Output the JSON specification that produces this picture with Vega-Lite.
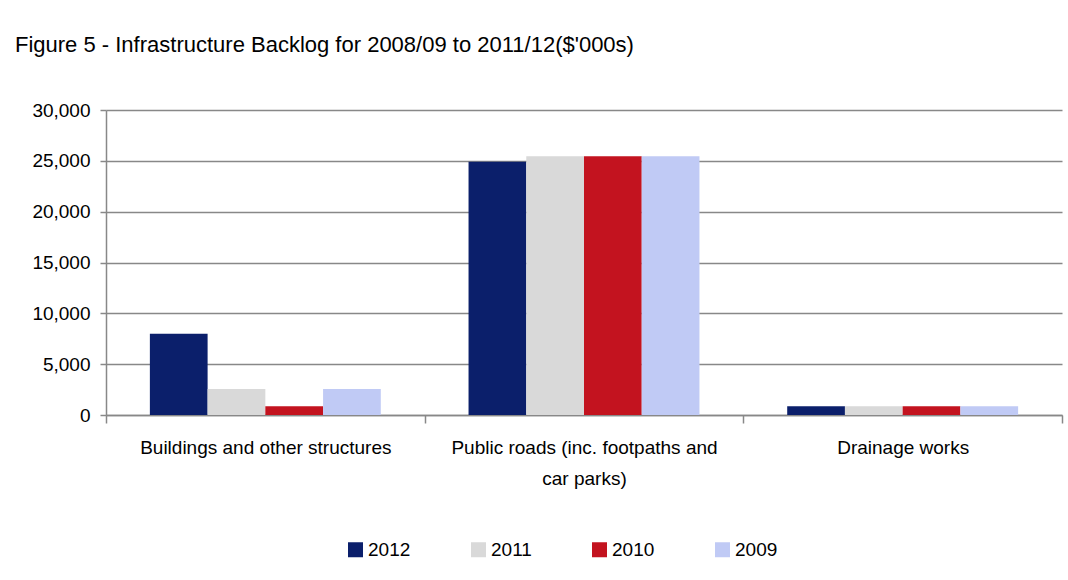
{
  "$schema": "https://vega.github.io/schema/vega-lite/v6.json",
  "width": 956,
  "height": 305,
  "autosize": {"type": "none"},
  "padding": {"left": 106, "top": 110, "right": 6, "bottom": 165},
  "background": "white",
  "title": {
    "text": "Figure 5 - Infrastructure Backlog for 2008/09 to 2011/12($'000s)",
    "anchor": "start",
    "frame": "group",
    "dx": -91,
    "offset": 44,
    "fontSize": 22,
    "fontWeight": "normal",
    "color": "black"
  },
  "data": {
    "values": [
      {"category": "Buildings and other structures", "year": "2012", "value": 8000},
      {"category": "Buildings and other structures", "year": "2011", "value": 2550},
      {"category": "Buildings and other structures", "year": "2010", "value": 850},
      {"category": "Buildings and other structures", "year": "2009", "value": 2550},
      {"category": "Public roads (inc. footpaths and car parks)", "year": "2012", "value": 24900},
      {"category": "Public roads (inc. footpaths and car parks)", "year": "2011", "value": 25450},
      {"category": "Public roads (inc. footpaths and car parks)", "year": "2010", "value": 25450},
      {"category": "Public roads (inc. footpaths and car parks)", "year": "2009", "value": 25450},
      {"category": "Drainage works", "year": "2012", "value": 850},
      {"category": "Drainage works", "year": "2011", "value": 850},
      {"category": "Drainage works", "year": "2010", "value": 850},
      {"category": "Drainage works", "year": "2009", "value": 850}
    ]
  },
  "mark": {"type": "bar"},
  "encoding": {
    "x": {
      "field": "category",
      "type": "nominal",
      "sort": ["Buildings and other structures", "Public roads (inc. footpaths and car parks)", "Drainage works"],
      "scale": {"paddingInner": 0, "paddingOuter": 0},
      "axis": {
        "title": null,
        "labelAngle": 0,
        "tickBand": "extent",
        "tickSize": 8,
        "tickColor": "#888888",
        "tickWidth": 1.5,
        "domainColor": "#888888",
        "domainWidth": 1.5,
        "labelFontSize": 19,
        "labelColor": "black",
        "labelPadding": 15,
        "labelLimit": 0,
        "labelLineHeight": 31,
        "labelExpr": "datum.value == 'Public roads (inc. footpaths and car parks)' ? ['Public roads (inc. footpaths and', 'car parks)'] : datum.label"
      }
    },
    "xOffset": {
      "field": "year",
      "type": "nominal",
      "sort": ["2012", "2011", "2010", "2009"],
      "scale": {"paddingInner": 0, "paddingOuter": 0.76}
    },
    "y": {
      "field": "value",
      "type": "quantitative",
      "scale": {"domain": [0, 30000]},
      "axis": {
        "title": null,
        "values": [0, 5000, 10000, 15000, 20000, 25000, 30000],
        "format": ",.0f",
        "grid": true,
        "gridColor": "#888888",
        "gridWidth": 1.5,
        "domainColor": "#888888",
        "domainWidth": 1.5,
        "tickColor": "#888888",
        "tickWidth": 1.5,
        "tickSize": 6,
        "labelFontSize": 19,
        "labelColor": "black",
        "labelPadding": 10
      }
    },
    "color": {
      "field": "year",
      "type": "nominal",
      "scale": {"domain": ["2012", "2011", "2010", "2009"], "range": ["#0b1f6b", "#d9d9d9", "#c3131f", "#c0caf5"]},
      "legend": {
        "title": null,
        "orient": "none",
        "legendX": 240,
        "legendY": 430,
        "direction": "horizontal",
        "symbolType": "square",
        "symbolSize": 225,
        "symbolStrokeWidth": 0,
        "labelFontSize": 19,
        "labelColor": "black",
        "labelOffset": 3,
        "columnPadding": 58
      }
    }
  },
  "config": {
    "font": "Liberation Sans",
    "view": {"stroke": null}
  }
}
